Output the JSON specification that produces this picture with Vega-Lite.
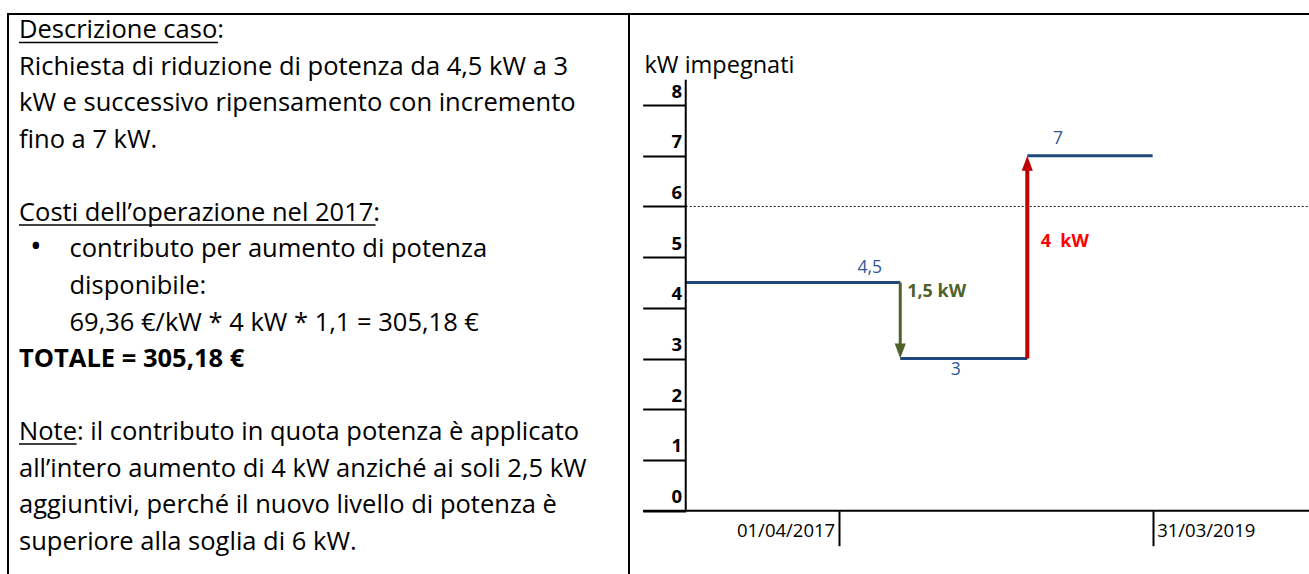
{
  "$schema": "https://vega.github.io/schema/vega-lite/v6.json",
  "width": 1309,
  "height": 574,
  "autosize": {"type": "none"},
  "padding": 0,
  "background": "white",
  "config": {
    "view": {"stroke": null},
    "font": "Open Sans",
    "axisLeft": {"labelFontSize": 18.5, "labelFontWeight": "bold"},
    "axisBottom": {"labelFontSize": 18.5}
  },
  "datasets": {
    "lines": [
      {"line": 0, "indent": 0, "text": "Descrizione caso:", "kind": "titolo"},
      {"line": 1, "indent": 0, "text": "Richiesta di riduzione di potenza da 4,5 kW a 3", "kind": "testo"},
      {"line": 2, "indent": 0, "text": "kW e successivo ripensamento con incremento", "kind": "testo"},
      {"line": 3, "indent": 0, "text": "fino a 7 kW.", "kind": "testo"},
      {"line": 5, "indent": 0, "text": "Costi dell’operazione nel 2017:", "kind": "titolo"},
      {"line": 6, "indent": 0.22, "text": "•", "kind": "punto"},
      {"line": 6, "indent": 1, "text": "contributo per aumento di potenza", "kind": "testo"},
      {"line": 7, "indent": 1, "text": "disponibile:", "kind": "testo"},
      {"line": 8, "indent": 1, "text": "69,36 €/kW * 4 kW * 1,1 = 305,18 €", "kind": "testo"},
      {"line": 9, "indent": 0, "text": "TOTALE = 305,18 €", "kind": "totale"},
      {"line": 11, "indent": 0, "text": "Note: il contributo in quota potenza è applicato", "kind": "nota"},
      {"line": 12, "indent": 0, "text": "all’intero aumento di 4 kW anziché ai soli 2,5 kW", "kind": "testo"},
      {"line": 13, "indent": 0, "text": "aggiuntivi, perché il nuovo livello di potenza è", "kind": "testo"},
      {"line": 14, "indent": 0, "text": "superiore alla soglia di 6 kW.", "kind": "testo"}
    ],
    "underlines": [
      {"line": 0, "from": 0, "to": 3.94},
      {"line": 5, "from": 0, "to": 7.06},
      {"line": 11, "from": 0, "to": 1.14}
    ],
    "segments": [
      {"start": "2016-04-11", "end": "2017-08-22", "kw": 4.5},
      {"start": "2017-08-22", "end": "2018-06-13", "kw": 3},
      {"start": "2018-06-13", "end": "2019-03-31", "kw": 7}
    ],
    "changes": [
      {"date": "2017-08-22", "from": 4.5, "to": 3, "kind": "riduzione"},
      {"date": "2018-06-13", "from": 3, "to": 7, "kind": "aumento"}
    ],
    "labels": [
      {"text": "4,5", "date": "2017-06-12", "kw": 4.79, "kind": "livello"},
      {"text": "3", "date": "2017-12-29", "kw": 2.77, "kind": "livello"},
      {"text": "7", "date": "2018-08-23", "kw": 7.33, "kind": "livello"},
      {"text": "1,5 kW", "date": "2017-09-07", "kw": 4.31, "kind": "riduzione"},
      {"text": "4\u00a0 kW", "date": "2018-07-14", "kw": 5.29, "kind": "aumento"}
    ],
    "threshold": [{"start": "2016-04-11", "end": "2020-03-28", "kw": 6}]
  },
  "resolve": {"scale": {"x": "independent", "y": "independent"}, "axis": {"x": "independent", "y": "independent"}},
  "layer": [
    {
      "layer": [
        {
          "data": {"name": "lines"},
          "transform": [{"filter": "datum.kind != 'totale' && datum.kind != 'punto'"}],
          "mark": {"type": "text", "align": "left", "baseline": "alphabetic", "fontSize": 25.5, "color": "black", "font": "Open Sans"},
          "encoding": {
            "x": {"field": "indent", "type": "quantitative", "scale": {"domain": [-0.37624, 25.5446], "nice": false, "zero": false}, "axis": null},
            "y": {"field": "line", "type": "quantitative", "scale": {"domain": [-1.05479, 14.67123], "nice": false, "zero": false, "reverse": true}, "axis": null},
            "text": {"field": "text"}
          }
        },
        {
          "data": {"name": "lines"},
          "transform": [{"filter": "datum.kind == 'punto'"}],
          "mark": {"type": "text", "align": "left", "baseline": "alphabetic", "fontSize": 31, "color": "black", "font": "Open Sans"},
          "encoding": {
            "x": {"field": "indent", "type": "quantitative", "axis": null},
            "y": {"field": "line", "type": "quantitative", "axis": null},
            "text": {"field": "text"}
          }
        },
        {
          "data": {"name": "lines"},
          "transform": [{"filter": "datum.kind == 'totale'"}],
          "mark": {"type": "text", "align": "left", "baseline": "alphabetic", "fontSize": 25.5, "fontWeight": "bold", "color": "black", "font": "Open Sans"},
          "encoding": {
            "x": {"field": "indent", "type": "quantitative", "axis": null},
            "y": {"field": "line", "type": "quantitative", "axis": null},
            "text": {"field": "text"}
          }
        },
        {
          "data": {"name": "underlines"},
          "mark": {"type": "rule", "yOffset": 4, "strokeWidth": 1.5, "color": "black"},
          "encoding": {
            "x": {"field": "from", "type": "quantitative", "axis": null},
            "x2": {"field": "to"},
            "y": {"field": "line", "type": "quantitative", "axis": null}
          }
        },
        {
          "data": {"values": [{}]},
          "mark": {"type": "rule", "strokeWidth": 2, "color": "black"},
          "encoding": {
            "x": {"datum": -0.2376, "type": "quantitative", "axis": null},
            "x2": {"datum": 25.5446},
            "y": {"datum": -0.6712, "type": "quantitative", "axis": null}
          }
        },
        {
          "data": {"values": [{}]},
          "mark": {"type": "rule", "strokeWidth": 2, "color": "black"},
          "encoding": {
            "x": {"datum": -0.2178, "type": "quantitative", "axis": null},
            "y": {"datum": -0.6712, "type": "quantitative", "axis": null},
            "y2": {"datum": 14.67123}
          }
        },
        {
          "data": {"values": [{}]},
          "mark": {"type": "rule", "strokeWidth": 2, "color": "black"},
          "encoding": {
            "x": {"datum": 12.0792, "type": "quantitative", "axis": null},
            "y": {"datum": -0.6712, "type": "quantitative", "axis": null},
            "y2": {"datum": 14.67123}
          }
        }
      ]
    },
    {
      "layer": [
        {
          "data": {"name": "segments"},
          "mark": {"type": "rule", "strokeWidth": 3, "color": "#1F497D"},
          "encoding": {
            "x": {
              "field": "start", "type": "temporal",
              "scale": {"type": "utc", "nice": false, "domain": [{"year": 2011, "month": 12, "date": 2, "utc": true}, {"year": 2020, "month": 3, "date": 28, "utc": true}]},
              "axis": {
                "orient": "bottom", "offset": -63.3, "domain": false, "grid": false, "title": null,
                "values": [{"year": 2017, "month": 4, "date": 1, "utc": true}, {"year": 2019, "month": 3, "date": 31, "utc": true}],
                "format": "%d/%m/%Y",
                "tickSize": 35, "tickWidth": 2, "tickColor": "black",
                "labelFontSize": 18.5, "labelColor": "black", "labelFont": "Open Sans",
                "labelPadding": -15.7, "labelBaseline": "middle",
                "labelAlign": {"condition": {"test": "datum.value < 1514764800000", "value": "right"}, "value": "left"},
                "labelOffset": {"condition": {"test": "datum.value < 1514764800000", "value": -4}, "value": 4},
                "labelFlush": false, "labelOverlap": false
              }
            },
            "x2": {"field": "end"},
            "y": {
              "field": "kw", "type": "quantitative",
              "scale": {"domain": [-1.2483, 10.071], "nice": false, "zero": false},
              "axis": {
                "orient": "left", "offset": -685.7, "domain": false, "grid": false,
                "values": [0, 1, 2, 3, 4, 5, 6, 7, 8],
                "tickSize": 43, "tickWidth": 2, "tickColor": "black",
                "labelFontSize": 18.5, "labelFontWeight": "bold", "labelColor": "black", "labelFont": "Open Sans",
                "labelPadding": -39, "labelOffset": -8, "labelBaseline": "alphabetic", "labelAlign": "right",
                "labelFlush": false, "labelOverlap": false,
                "title": "kW impegnati", "titleAngle": 0, "titleX": -41.7, "titleY": 72,
                "titleAlign": "left", "titleBaseline": "alphabetic", "titleFontSize": 23.5,
                "titleFontWeight": "normal", "titleColor": "black", "titleFont": "Open Sans"
              }
            }
          }
        },
        {
          "data": {"name": "threshold"},
          "mark": {"type": "rule", "strokeWidth": 1, "strokeDash": [2, 2], "color": "#1a1a1a"},
          "encoding": {
            "x": {"field": "start", "type": "temporal"},
            "x2": {"field": "end"},
            "y": {"field": "kw", "type": "quantitative"}
          }
        },
        {
          "data": {"values": [{}]},
          "mark": {"type": "rule", "strokeWidth": 2, "color": "black"},
          "encoding": {
            "x": {"datum": {"year": 2016, "month": 1, "date": 3, "utc": true}, "type": "temporal"},
            "x2": {"datum": {"year": 2020, "month": 3, "date": 28, "utc": true}},
            "y": {"datum": 0, "type": "quantitative"}
          }
        },
        {
          "data": {"values": [{}]},
          "mark": {"type": "rule", "strokeWidth": 2, "color": "black"},
          "encoding": {
            "x": {"datum": {"year": 2016, "month": 4, "date": 11, "utc": true}, "type": "temporal"},
            "y": {"datum": 0, "type": "quantitative"},
            "y2": {"datum": 8.5}
          }
        },
        {
          "data": {"name": "changes"},
          "transform": [{"filter": "datum.kind == 'riduzione'"}],
          "mark": {"type": "rule", "strokeWidth": 3, "color": "#4F6228", "y2Offset": -8},
          "encoding": {
            "x": {"field": "date", "type": "temporal"},
            "y": {"field": "from", "type": "quantitative"},
            "y2": {"field": "to"}
          }
        },
        {
          "data": {"name": "changes"},
          "transform": [{"filter": "datum.kind == 'aumento'"}],
          "mark": {"type": "rule", "strokeWidth": 4, "color": "#C00000", "y2Offset": 8},
          "encoding": {
            "x": {"field": "date", "type": "temporal"},
            "y": {"field": "from", "type": "quantitative"},
            "y2": {"field": "to"}
          }
        },
        {
          "data": {"name": "changes"},
          "transform": [{"filter": "datum.kind == 'riduzione'"}],
          "mark": {"type": "point", "shape": "M-0.37,-1L0.37,-1L0,0Z", "size": 900, "filled": true, "color": "#4F6228", "opacity": 1, "strokeWidth": 0},
          "encoding": {
            "x": {"field": "date", "type": "temporal"},
            "y": {"field": "to", "type": "quantitative"}
          }
        },
        {
          "data": {"name": "changes"},
          "transform": [{"filter": "datum.kind == 'aumento'"}],
          "mark": {"type": "point", "shape": "M-0.37,1L0.37,1L0,0Z", "size": 900, "filled": true, "color": "#C00000", "opacity": 1, "strokeWidth": 0},
          "encoding": {
            "x": {"field": "date", "type": "temporal"},
            "y": {"field": "to", "type": "quantitative"}
          }
        },
        {
          "data": {"name": "labels"},
          "transform": [{"filter": "datum.kind == 'livello'"}],
          "mark": {"type": "text", "align": "center", "baseline": "middle", "fontSize": 17.5, "color": "#2F5597", "font": "Open Sans"},
          "encoding": {
            "x": {"field": "date", "type": "temporal"},
            "y": {"field": "kw", "type": "quantitative"},
            "text": {"field": "text"}
          }
        },
        {
          "data": {"name": "labels"},
          "transform": [{"filter": "datum.kind == 'riduzione'"}],
          "mark": {"type": "text", "align": "left", "baseline": "middle", "fontSize": 18, "fontWeight": "bold", "color": "#4F6228", "font": "Open Sans"},
          "encoding": {
            "x": {"field": "date", "type": "temporal"},
            "y": {"field": "kw", "type": "quantitative"},
            "text": {"field": "text"}
          }
        },
        {
          "data": {"name": "labels"},
          "transform": [{"filter": "datum.kind == 'aumento'"}],
          "mark": {"type": "text", "align": "left", "baseline": "middle", "fontSize": 18, "fontWeight": "bold", "color": "#FF0000", "font": "Open Sans"},
          "encoding": {
            "x": {"field": "date", "type": "temporal"},
            "y": {"field": "kw", "type": "quantitative"},
            "text": {"field": "text"}
          }
        }
      ]
    }
  ]
}
